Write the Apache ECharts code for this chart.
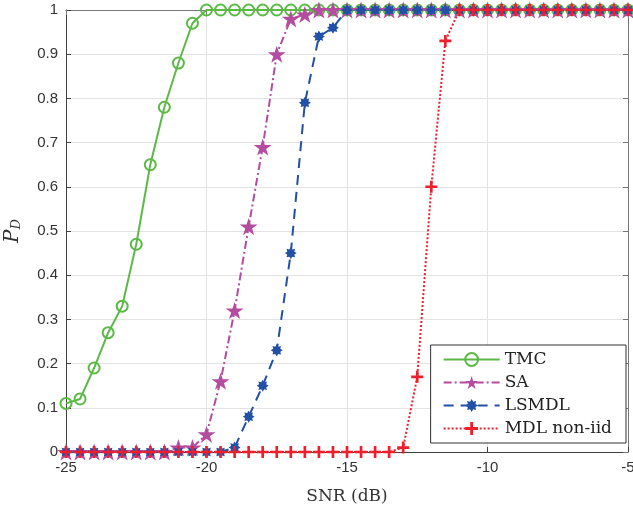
<!DOCTYPE html>
<html>
<head>
<meta charset="utf-8">
<script src="https://cdn.jsdelivr.net/npm/echarts@6/dist/echarts.min.js"></script>
<style>
  html, body { margin: 0; padding: 0; background: #fff; }
  #main { width: 633px; height: 512px; }
</style>
</head>
<body>
<div id="main"></div>
<script>
var snr = [-25, -24.5, -24, -23.5, -23, -22.5, -22, -21.5, -21, -20.5,
  -20, -19.5, -19, -18.5, -18, -17.5, -17, -16.5, -16, -15.5,
  -15, -14.5, -14, -13.5, -13, -12.5, -12, -11.5, -11, -10.5,
  -10, -9.5, -9, -8.5, -8, -7.5, -7, -6.5, -6, -5.5, -5];
var tmc = [0.11, 0.12, 0.19, 0.27, 0.33, 0.47, 0.65, 0.78, 0.88, 0.97,
  1, 1, 1, 1, 1, 1, 1, 1, 1, 1,
  1, 1, 1, 1, 1, 1, 1, 1, 1, 1,
  1, 1, 1, 1, 1, 1, 1, 1, 1, 1, 1];
var sa = [0, 0, 0, 0, 0, 0, 0, 0, 0.01, 0.01,
  0.04, 0.16, 0.32, 0.51, 0.69, 0.90, 0.98, 0.99, 1, 1,
  1, 1, 1, 1, 1, 1, 1, 1, 1, 1,
  1, 1, 1, 1, 1, 1, 1, 1, 1, 1, 1];
var lsmdl = [0, 0, 0, 0, 0, 0, 0, 0, 0, 0,
  0, 0, 0.01, 0.08, 0.15, 0.23, 0.45, 0.79, 0.94, 0.96,
  1, 1, 1, 1, 1, 1, 1, 1, 1, 1,
  1, 1, 1, 1, 1, 1, 1, 1, 1, 1, 1];
var mdl = [0, 0, 0, 0, 0, 0, 0, 0, 0, 0,
  0, 0, 0, 0, 0, 0, 0, 0, 0, 0,
  0, 0, 0, 0, 0.01, 0.17, 0.60, 0.93, 1, 1,
  1, 1, 1, 1, 1, 1, 1, 1, 1, 1, 1];
var names = ['TMC', 'SA', 'LSMDL', 'MDL non-iid'];

var starPath = 'path://M50 0 L61.23 34.55 L97.55 34.55 L68.17 55.9 L79.39 90.45 L50 69.1 L20.61 90.45 L31.83 55.9 L2.45 34.55 L38.77 34.55 Z';
var plusPath = 'path://M39 0 H61 V39 H100 V61 H61 V100 H39 V61 H0 V39 H39 Z';
var astPath = 'path://M100 50 L79.56 62.25 L85.36 85.36 L62.25 79.56 L50 100 L37.75 79.56 L14.64 85.36 L20.44 62.25 L0 50 L20.44 37.75 L14.64 14.64 L37.75 20.44 L50 0 L62.25 20.44 L85.36 14.64 L79.56 37.75 Z';

function pairs(ys) {
  var res = [];
  for (var i = 0; i < snr.length; i++) res.push([snr[i], ys[i]]);
  return res;
}

var myChart = echarts.init(document.getElementById('main'));
var axisColor = '#404040';
var tickFont = { color: '#333', fontSize: 15, fontFamily: 'Liberation Sans, Arial, sans-serif' };

var option = {
  backgroundColor: '#fff',
  animation: false,
  grid: { left: 66, top: 10, right: 5, bottom: 60, show: false, outerBoundsMode: 'none', containLabel: false },
  legend: {
    orient: 'vertical',
    right: 7,
    top: 345,
    data: names,
    backgroundColor: '#fff',
    borderColor: '#333',
    borderWidth: 1,
    padding: [6, 14, 6, 12],
    itemWidth: 56,
    itemHeight: 16,
    itemGap: 6,
    textStyle: { fontFamily: 'DejaVu Serif, Liberation Serif, serif', fontSize: 17, color: '#222' }
  },
  xAxis: [{
    type: 'value', min: -25, max: -5, interval: 5,
    name: 'SNR (dB)', nameLocation: 'middle', nameGap: 36,
    nameTextStyle: { fontFamily: 'DejaVu Serif, Liberation Serif, serif', fontSize: 17, color: '#333' },
    axisLine: { onZero: false, lineStyle: { color: axisColor, width: 1 } },
    axisTick: { inside: true, length: 5, lineStyle: { color: axisColor } },
    axisLabel: tickFont,
    splitLine: { show: true, lineStyle: { color: '#e3e3e3' } }
  }, {
    type: 'value', min: -25, max: -5, interval: 5, position: 'top',
    axisLine: { onZero: false, lineStyle: { color: '#777' } },
    axisTick: { inside: true, length: 5, lineStyle: { color: '#777' } },
    axisLabel: { show: false }, splitLine: { show: false }
  }],
  yAxis: [{
    type: 'value', min: 0, max: 1, interval: 0.1,
    name: '{p|P}{d|D}', nameLocation: 'middle', nameGap: 41, nameRotate: 90,
    nameTextStyle: {
      rich: {
        p: { fontFamily: 'DejaVu Serif, Liberation Serif, serif', fontStyle: 'italic', fontSize: 20, color: '#333', lineHeight: 24 },
        d: { fontFamily: 'DejaVu Serif, Liberation Serif, serif', fontStyle: 'italic', fontSize: 13, color: '#333', padding: [8, 0, 0, 0] }
      }
    },
    axisLine: { onZero: false, lineStyle: { color: axisColor, width: 1 } },
    axisTick: { inside: true, length: 5, lineStyle: { color: axisColor } },
    axisLabel: Object.assign({ margin: 8, formatter: function (v) { return +v.toFixed(1) + ''; } }, tickFont),
    splitLine: { show: true, lineStyle: { color: '#e3e3e3' } }
  }, {
    type: 'value', min: 0, max: 1, interval: 0.1, position: 'right',
    axisLine: { onZero: false, lineStyle: { color: '#777' } },
    axisTick: { inside: true, length: 5, lineStyle: { color: '#777' } },
    axisLabel: { show: false }, splitLine: { show: false }
  }],
  series: [{
    name: names[0], type: 'line', data: pairs(tmc),
    symbol: 'circle', symbolSize: 11,
    lineStyle: { color: '#5cb946', width: 2, type: 'solid' },
    itemStyle: { color: 'rgba(255,255,255,0)', borderColor: '#5cb946', borderWidth: 2 },
    emphasis: { disabled: true }
  }, {
    name: names[1], type: 'line', data: pairs(sa),
    symbol: starPath, symbolSize: 18, symbolKeepAspect: true,
    lineStyle: { color: '#b44c9f', width: 2, type: [8, 3, 2, 3] },
    itemStyle: { color: '#b44c9f' },
    emphasis: { disabled: true }
  }, {
    name: names[2], type: 'line', data: pairs(lsmdl),
    symbol: astPath, symbolSize: 12, symbolKeepAspect: true,
    lineStyle: { color: '#2150a6', width: 2, type: [10, 7] },
    itemStyle: { color: '#2150a6' },
    emphasis: { disabled: true }
  }, {
    name: names[3], type: 'line', data: pairs(mdl),
    symbol: plusPath, symbolSize: 12, symbolKeepAspect: true,
    lineStyle: { color: '#ee1f2a', width: 2, type: [2, 2] },
    itemStyle: { color: '#ee1f2a' },
    emphasis: { disabled: true }
  }]
};
myChart.setOption(option);
</script>
</body>
</html>
